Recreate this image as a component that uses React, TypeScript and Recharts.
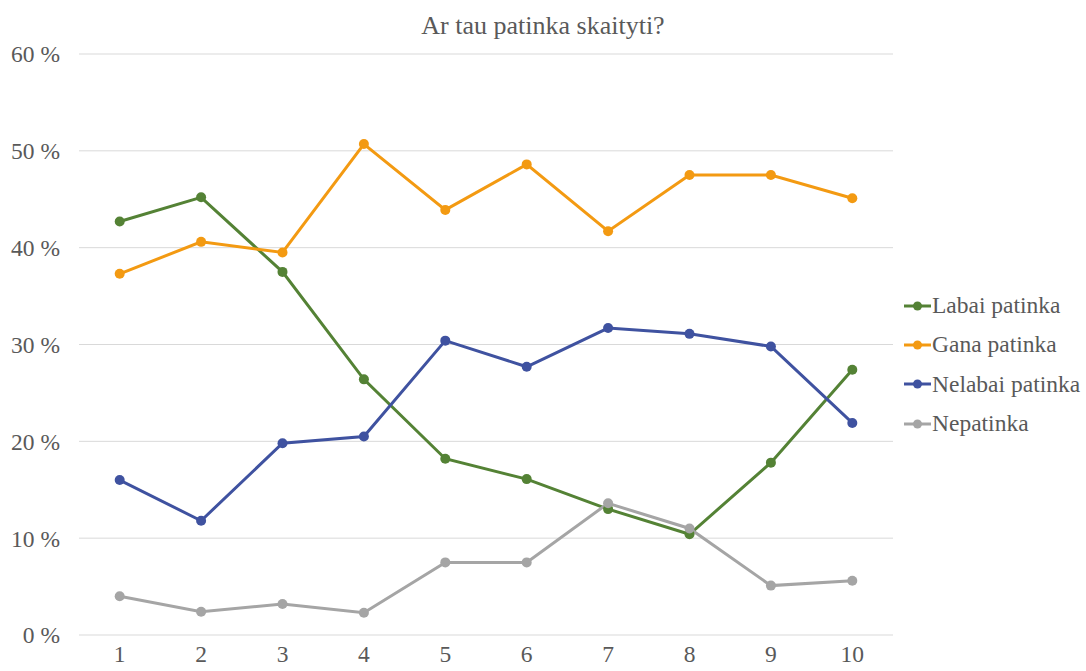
import { CartesianGrid, Legend, Line, LineChart, XAxis, YAxis } from 'recharts';

// Survey: "Ar tau patinka skaityti?" by grade 1–10, share of answers in %.
const grades = ['1', '2', '3', '4', '5', '6', '7', '8', '9', '10'];
const labaiPatinka = [42.7, 45.2, 37.5, 26.4, 18.2, 16.1, 13.0, 10.4, 17.8, 27.4];
const ganaPatinka = [37.3, 40.6, 39.5, 50.7, 43.9, 48.6, 41.7, 47.5, 47.5, 45.1];
const nelabaiPatinka = [16.0, 11.8, 19.8, 20.5, 30.4, 27.7, 31.7, 31.1, 29.8, 21.9];
const nepatinka = [4.0, 2.4, 3.2, 2.3, 7.5, 7.5, 13.6, 11.0, 5.1, 5.6];
const yTicks = [0, 10, 20, 30, 40, 50, 60];

const SERIES = [
  { key: 'labai', name: 'Labai patinka', color: '#548235' },
  { key: 'gana', name: 'Gana patinka', color: '#F39A12' },
  { key: 'nelabai', name: 'Nelabai patinka', color: '#3F52A0' },
  { key: 'ne', name: 'Nepatinka', color: '#A5A5A5' },
];

const data = grades.map((g, i) => ({
  grade: g,
  labai: labaiPatinka[i],
  gana: ganaPatinka[i],
  nelabai: nelabaiPatinka[i],
  ne: nepatinka[i],
}));

const FONT = '"Liberation Serif", "Times New Roman", serif';
const TEXT = '#595959';

function LegendList() {
  return (
    <div style={{ fontFamily: FONT, fontSize: 23.5, color: TEXT }}>
      {SERIES.map((s) => (
        <div key={s.key} style={{ display: 'flex', alignItems: 'center', height: 39.3 }}>
          <svg width={29} height={12} style={{ marginRight: 0 }}>
            <line x1={1} y1={6} x2={28} y2={6} stroke={s.color} strokeWidth={3} />
            <circle cx={14.5} cy={6} r={4.5} fill={s.color} />
          </svg>
          <span>{s.name}</span>
        </div>
      ))}
    </div>
  );
}

export default function App() {
  return (
    <div style={{ position: 'absolute', left: 0, top: 0, width: 1086, height: 671, background: '#fff' }}>
      <div
        style={{
          position: 'absolute',
          top: 11,
          left: 0,
          width: 1086,
          textAlign: 'center',
          fontFamily: FONT,
          fontSize: 26,
          color: TEXT,
        }}
      >
        Ar tau patinka skaityti?
      </div>
      <LineChart width={1086} height={671} data={data} margin={{ top: 54, right: 0, bottom: 0, left: 0 }}>
        <CartesianGrid vertical={false} stroke="#d9d9d9" strokeWidth={1} />
        <XAxis
          dataKey="grade"
          axisLine={false}
          tickLine={false}
          height={36}
          padding={{ left: 40.7, right: 40.7 }}
          tick={{ fontFamily: FONT, fontSize: 23.5, fill: TEXT }}
          tickMargin={4}
        />
        <YAxis
          width={79}
          domain={[0, 60]}
          ticks={yTicks}
          axisLine={false}
          tickLine={false}
          tickFormatter={(v) => `${v} %`}
          tick={{ fontFamily: FONT, fontSize: 23.5, fill: TEXT }}
          tickMargin={13}
        />
        <Legend
          layout="vertical"
          align="right"
          verticalAlign="top"
          width={183}
          wrapperStyle={{ top: 286, right: 0, left: 'auto', paddingLeft: 10 }}
          content={<LegendList />}
        />
        {SERIES.map((s) => (
          <Line
            key={s.key}
            dataKey={s.key}
            name={s.name}
            stroke={s.color}
            strokeWidth={3}
            dot={{ r: 5, fill: s.color, stroke: s.color, strokeWidth: 0 }}
            isAnimationActive={false}
          />
        ))}
      </LineChart>
    </div>
  );
}
